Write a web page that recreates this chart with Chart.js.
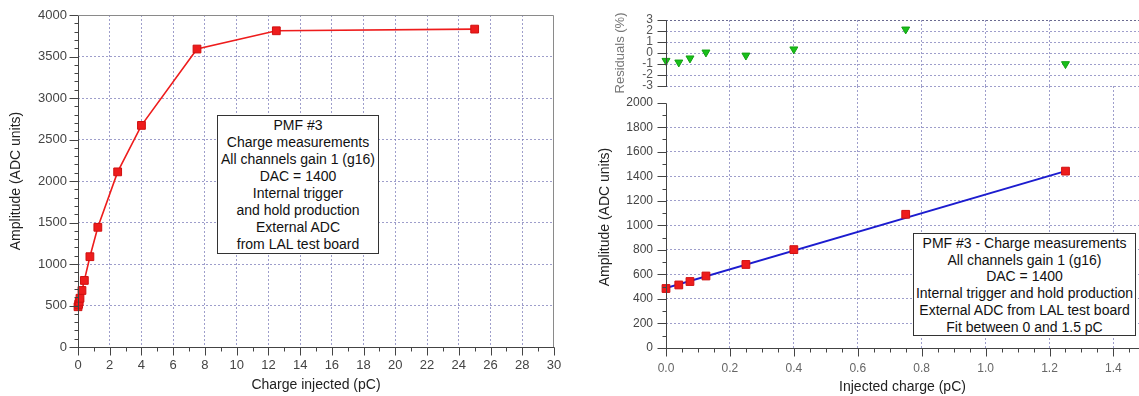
<!DOCTYPE html>
<html>
<head>
<meta charset="utf-8">
<script src="https://cdn.jsdelivr.net/npm/chart.js@4.4.0/dist/chart.umd.min.js"></script>
<style>
  body { margin:0; background:#fff; width:1139px; height:396px; position:relative; overflow:hidden; }
  canvas { position:absolute; }
  .box { position:absolute; background:#fff; border:1px solid #333; box-sizing:border-box;
         text-align:center; font-family:"Liberation Sans", Arial, sans-serif; font-size:14px; color:#111; }
</style>
</head>
<body>
<canvas id="chart-left" width="570" height="396" style="left:0;top:0"></canvas>
<canvas id="chart-resid" width="549" height="94" style="left:590px;top:0"></canvas>
<canvas id="chart-fit" width="549" height="318" style="left:590px;top:78px"></canvas>

<div class="box" style="left:217px;top:115px;width:162px;height:139px;padding-top:1px;line-height:17px">
  PMF #3<br>Charge measurements<br>All channels gain 1 (g16)<br>DAC = 1400<br>Internal trigger<br>and hold production<br>External ADC<br>from LAL test board
</div>
<div class="box" style="left:913px;top:233px;width:223px;height:103px;padding-top:1px;line-height:16.7px">
  PMF #3 - Charge measurements<br>All channels gain 1 (g16)<br>DAC = 1400<br>Internal trigger and hold production<br>External ADC from LAL test board<br>Fit between 0 and 1.5 pC
</div>

<script>
// ---- data ----
const chargeAll = [0, 0.04, 0.075, 0.125, 0.25, 0.4, 0.75, 1.25, 2.5, 4, 7.5, 12.5, 25];
const amplitudeAll = [485, 514, 542, 587, 681, 802, 1088, 1442, 2110, 2670, 3590, 3810, 3830];

const chargeFit = [0, 0.04, 0.075, 0.125, 0.25, 0.4, 0.75, 1.25];
const amplitudeFit = [485, 514, 542, 587, 681, 802, 1090, 1442];
const residuals = [-0.7, -0.85, -0.48, 0.06, -0.22, 0.34, 2.15, -1.0];

const fitLineX = [0, 1.25];
const fitLineY = [488, 1442];

// ---- styles ----
const FONT = '"Liberation Sans", Arial, sans-serif';
const GRID = 'rgba(125,125,185,0.75)';
const AXIS = '#444';
const RED = '#ee1c1c';
const GREEN = '#19c119';
const BLUE = '#1c1ccf';
const NONE = 'rgba(0,0,0,0)';

Chart.defaults.font.family = FONT;
Chart.defaults.color = '#333';

const pts = (xs, ys) => xs.map((x, i) => ({ x: x, y: ys[i] }));

// axis lines + major/minor tick marks drawn from the scales
const axisMarks = {
    id: 'axisMarks',
    afterDraw(chart, args, o) {
        const ctx = chart.ctx, area = chart.chartArea;
        ctx.save();
        ctx.lineWidth = 1;
        ctx.strokeStyle = o.color || AXIS;
        (o.axes || []).forEach(a => {
            const s = chart.scales[a.id];
            const p = v => Math.round(s.getPixelForValue(v)) + 0.5;
            const n = a.minor ? Math.round((a.to - a.from) / a.minor) : 0;
            ctx.beginPath();
            if (s.isHorizontal()) {
                const y = Math.round(area.bottom) + 0.5;
                ctx.moveTo(p(a.from) - 0.5, y); ctx.lineTo(p(a.end ?? a.to), y);
                for (let k = 0; k <= n; k++) {
                    const v = a.from + k * a.minor;
                    const maj = Math.abs(v / a.major - Math.round(v / a.major)) < 1e-6;
                    ctx.moveTo(p(v), y); ctx.lineTo(p(v), y + (maj ? 8 : 4));
                }
            } else {
                const x = Math.round(area.left) + 0.5;
                ctx.moveTo(x, p(a.from) + 0.5); ctx.lineTo(x, p(a.end ?? a.to));
                for (let k = 0; k <= n; k++) {
                    const v = a.from + k * a.minor;
                    const maj = Math.abs(v / a.major - Math.round(v / a.major)) < 1e-6;
                    ctx.moveTo(x, p(v)); ctx.lineTo(x - (maj ? 9 : 4), p(v));
                }
            }
            ctx.stroke();
        });
        if (o.frame) {
            ctx.strokeStyle = o.frame;
            ctx.beginPath();
            ctx.moveTo(area.left, Math.round(area.top) + 0.5);
            ctx.lineTo(Math.round(area.right) - 0.5, Math.round(area.top) + 0.5);
            ctx.lineTo(Math.round(area.right) - 0.5, Math.round(area.bottom));
            ctx.stroke();
        }
        ctx.restore();
    }
};

// tick marks are invisible here (drawn by axisMarks); tickLength only offsets the labels
const gridOpts = (hide, offset, lineColor) => ({
    drawTicks: true,
    tickLength: offset,
    tickColor: NONE,
    lineWidth: 1,
    color: c => (c.tick && hide(c.tick.value)) ? NONE : (lineColor ? lineColor(c) : GRID)
});

// ---- left chart: full range ----
new Chart(document.getElementById('chart-left'), {
    type: 'scatter',
    data: {
        datasets: [{
            data: pts(chargeAll, amplitudeAll), clip: false,
            showLine: true, borderColor: RED, borderWidth: 1.6,
            pointStyle: 'rect', pointRadius: 5.5, pointBackgroundColor: RED, pointBorderColor: '#d01010', pointBorderWidth: 1
        }]
    },
    options: {
        responsive: false, animation: false, events: [],
        layout: { padding: { top: 15, right: 16, left: 0, bottom: 0 }, autoPadding: false },
        plugins: {
            legend: { display: false }, tooltip: { enabled: false },
            axisMarks: {
                frame: '#8a8a8a',
                axes: [{ id: 'x', from: 0, to: 30, major: 2, minor: 1 },
                       { id: 'y', from: 0, to: 4000, major: 500, minor: 100 }]
            }
        },
        scales: {
            x: {
                type: 'linear', min: 0, max: 30,
                ticks: { stepSize: 2, padding: 0, font: { size: 13 }, color: '#444', maxRotation: 0, autoSkip: false, callback: v => String(v) },
                grid: gridOpts(v => v === 0 || v === 30, 11),
                border: { display: false, dash: [2, 2] },
                title: { display: true, text: 'Charge injected (pC)', font: { size: 14 }, color: '#222', padding: { top: 0, bottom: 2 } },
                afterFit: s => { s.height = 49; }
            },
            y: {
                min: 0, max: 4000,
                ticks: { stepSize: 500, padding: 0, font: { size: 13 }, color: '#444', autoSkip: false, callback: v => String(v) },
                grid: gridOpts(v => v === 0 || v === 4000, 11),
                border: { display: false, dash: [2, 2] },
                title: { display: true, text: 'Amplitude (ADC units)', font: { size: 14 }, color: '#222', padding: { top: 8, bottom: 0 } },
                afterFit: s => { s.width = 78; }
            }
        }
    },
    plugins: [axisMarks]
});

// ---- right top: residuals ----
new Chart(document.getElementById('chart-resid'), {
    type: 'scatter',
    data: {
        datasets: [{
            data: pts(chargeFit, residuals), clip: false,
            pointStyle: 'triangle', rotation: 180, pointRadius: 4.6,
            pointBackgroundColor: GREEN, pointBorderColor: '#12a012', pointBorderWidth: 1
        }]
    },
    options: {
        responsive: false, animation: false, events: [],
        layout: { padding: { top: 20, right: 0, left: 0, bottom: 0 }, autoPadding: false },
        plugins: {
            legend: { display: false }, tooltip: { enabled: false },
            axisMarks: { axes: [{ id: 'y', from: -3, to: 3, major: 1, minor: 1 }] }
        },
        scales: {
            x: {
                type: 'linear', min: 0, max: 1.48,
                ticks: { display: false, stepSize: 0.2 },
                grid: { drawTicks: false, lineWidth: 1, color: c => c.tick && c.tick.value === 0 ? NONE : GRID },
                border: { display: false, dash: [2, 2] },
                afterFit: s => { s.height = 8; }
            },
            y: {
                min: -3, max: 3,
                ticks: { stepSize: 1, padding: 0, font: { size: 12 }, color: '#555', autoSkip: false },
                grid: gridOpts(() => false, 13, c => c.tick && c.tick.value === 3 ? '#6a6a90' : GRID),
                border: { display: false, dash: [2, 2] },
                title: { display: true, text: 'Residuals (%)', font: { size: 13 }, color: '#777', padding: { top: 23, bottom: 0 } },
                afterFit: s => { s.width = 76; }
            }
        }
    },
    plugins: [axisMarks]
});

// ---- right bottom: linear fit ----
new Chart(document.getElementById('chart-fit'), {
    type: 'scatter',
    data: {
        datasets: [{
            data: pts(chargeFit, amplitudeFit), order: 0, clip: false,
            pointStyle: 'rect', pointRadius: 5.5, pointBackgroundColor: RED, pointBorderColor: '#d01010', pointBorderWidth: 1
        }, {
            data: pts(fitLineX, fitLineY), order: 1,
            showLine: true, borderColor: BLUE, borderWidth: 2, pointRadius: 0
        }]
    },
    options: {
        responsive: false, animation: false, events: [],
        layout: { padding: { top: 8, right: 0, left: 0, bottom: 0 }, autoPadding: false },
        plugins: {
            legend: { display: false }, tooltip: { enabled: false },
            axisMarks: {
                axes: [{ id: 'x', from: 0, to: 1.45, end: 1.48, major: 0.2, minor: 0.05 },
                       { id: 'y', from: 0, to: 2000, major: 200, minor: 100 }]
            }
        },
        scales: {
            x: {
                type: 'linear', min: 0, max: 1.48,
                ticks: { stepSize: 0.2, includeBounds: false, padding: 0, font: { size: 12 }, color: '#666',
                         maxRotation: 0, autoSkip: false, callback: v => v.toFixed(1) },
                grid: gridOpts(v => v === 0, 13),
                border: { display: false, dash: [2, 2] },
                title: { display: true, text: 'Injected charge (pC)', font: { size: 14 }, color: '#222', padding: { top: 0, bottom: 0 } },
                afterFit: s => { s.height = 48; }
            },
            y: {
                min: 0, max: 2136,
                ticks: { stepSize: 200, includeBounds: false, padding: 0, font: { size: 12 }, color: '#444', autoSkip: false, callback: v => String(v) },
                grid: gridOpts(v => v === 0 || v === 2000, 13),
                border: { display: false, dash: [2, 2] },
                title: { display: true, text: 'Amplitude (ADC units)', font: { size: 14 }, color: '#222', padding: { top: 7, bottom: 0 } },
                afterFit: s => { s.width = 76; }
            }
        }
    },
    plugins: [axisMarks]
});
</script>
</body>
</html>
